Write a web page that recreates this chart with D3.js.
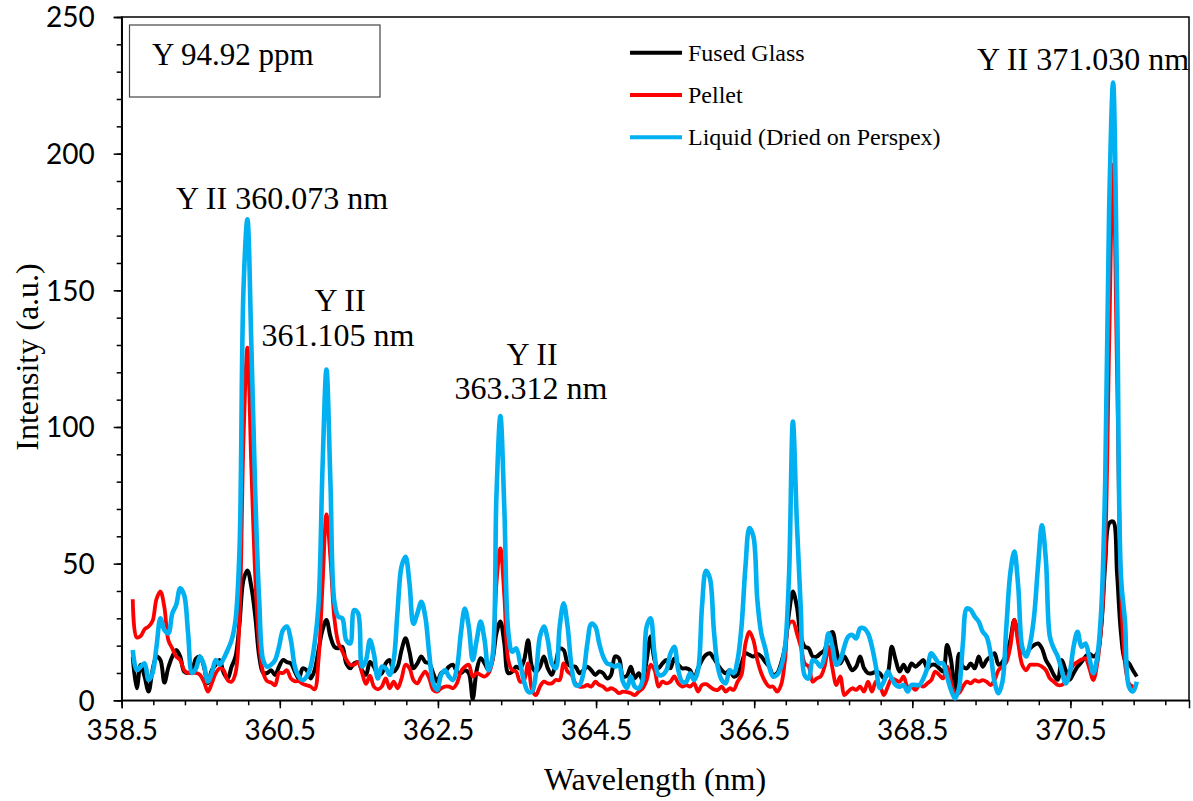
<!DOCTYPE html>
<html>
<head>
<meta charset="utf-8">
<script src="https://cdn.jsdelivr.net/npm/d3@7"></script>
<style>
  body { margin: 0; background: #fff; }
  .tick text { font-family: Lato, "Open Sans", sans-serif; font-size: 28px; fill: #000; }
  .serif { font-family: "Liberation Serif", "Times New Roman", serif; fill: #000; }
</style>
</head>
<body>
<script>
// spectra sampled every 0.05 nm starting at 358.64 nm
var startWl = 358.64, stepWl = 0.05;

var fusedGlass = [
  16, 4.4, 13, 8.6, 3.2, 11, 16, 14.7, 6.5, 12,
  16, 18.4, 16, 10.5, 10, 11, 15.3, 16, 12.3, 6.2,
  11, 13, 14.7, 10, 8, 12.3, 16, 28, 44, 47.5,
  41.5, 30.6, 16, 10, 10, 11, 9.3, 12.3, 14.7, 14,
  13.5, 10.5, 8, 11.7, 11, 8, 11, 18.4, 25.7, 29.4,
  23.3, 19.6, 19, 19.6, 13.5, 11.7, 13.5, 14, 11, 9.3,
  14, 12.3, 9.3, 9.9, 13.5, 14.7, 10.5, 12.3, 18.4, 22.7,
  17.8, 11.7, 13.5, 16, 14, 13.5, 9.9, 6.8, 9.9, 10.5,
  12.3, 13, 10.5, 9.9, 11, 9.9, 0.5, 11, 15.4, 13.5,
  11, 14.7, 24.5, 28.8, 20.8, 9.9, 10.5, 12.3, 11.7, 14.7,
  22, 12.3, 10.5, 12.3, 16, 11.7, 9.3, 13.5, 19, 18.4,
  13.5, 12.3, 12.3, 9.9, 11, 12.3, 11, 9.3, 10.5, 9.9,
  8, 9.3, 16, 15.4, 8.7, 9, 12.3, 8, 9.9, 7.4,
  14.7, 23.3, 14.7, 11.7, 13.5, 14.7, 11.7, 15.3, 13, 11.7,
  11.7, 11, 8, 11.7, 14.7, 16.6, 17.2, 15.3, 13, 11,
  9.9, 11, 8.7, 9.3, 13.5, 17.2, 16.6, 16, 16.9, 16,
  14, 12.3, 9.3, 9.9, 13.5, 19.6, 31.8, 39.8, 34.3, 23.3,
  19.6, 19, 16, 16, 17.2, 18.4, 23.3, 25, 18.4, 13.5,
  16, 13.5, 11, 12.3, 16, 11.7, 9.9, 9.9, 10.5, 9.9,
  8, 9.9, 19.6, 14.7, 10.5, 13, 10.5, 13.5, 12.3, 13.5,
  14.7, 11.7, 13, 13, 11.7, 10.5, 20.2, 14.7, 3, 17,
  12.3, 11.7, 13.5, 11.7, 16, 12.3, 14.7, 16, 17.2, 13,
  14, 17.2, 22, 29.4, 22.7, 17.8, 17.2, 19, 20.2, 20.8,
  19, 14.7, 12.3, 9.3, 7.5, 14.7, 11, 7.5, 9.9, 12.3,
  14, 16, 17, 16, 17.2, 27, 50, 64.8, 65.4, 46.5,
  24.5, 14.7, 13.5, 11, 8.7
];

var pellet = [
  37, 23, 23.5, 26, 27, 29, 37, 39.8, 34, 22,
  19, 16, 14.7, 11, 10, 10, 10, 9.3, 6.8, 3.2,
  6.2, 10, 11.7, 11, 7.4, 6.8, 10, 30, 95, 129,
  85, 45, 20, 10, 7, 6.5, 5.5, 10, 10, 11,
  8, 7, 7, 6, 5.5, 5, 4, 15, 42, 68,
  52, 30, 21, 18, 15, 13, 13, 14, 10, 6,
  9, 5, 4, 5, 8, 4.4, 6.8, 4.4, 8, 13,
  11.7, 7.4, 6.2, 8.7, 10.5, 8, 3.8, 3.2, 4.4, 5,
  5, 4.4, 6.2, 10.5, 12.3, 13, 8.7, 9.9, 9.3, 8.7,
  9.9, 14.7, 42.8, 55.6, 38, 14.7, 11, 10.5, 6.8, 7.4,
  13.5, 3.8, 1.9, 5, 6.8, 6.2, 6.2, 7.4, 7.4, 13.5,
  10.5, 9.3, 6.2, 5, 5, 5.6, 5, 6.8, 5.6, 5,
  3.8, 4.4, 3.8, 2.6, 3.2, 3, 2.6, 1.9, 3.2, 4.4,
  7.4, 13, 11, 5, 6.8, 6.2, 6.8, 8.7, 6.2, 5,
  5.6, 5, 6.2, 3.2, 5.6, 5.9, 5, 4, 3.8, 5,
  3.2, 4.4, 3.8, 6.8, 9.3, 20.8, 25, 22, 14.7, 9.9,
  6.8, 5, 5, 3.2, 5.6, 14.7, 28, 28.8, 24.5, 19.6,
  13.5, 12.3, 6.8, 8, 8.7, 12.3, 19.6, 11.7, 5.6, 8.7,
  1.9, 3.2, 4.4, 3.8, 5, 3.2, 6.8, 3.2, 6.8, 5.5,
  1.9, 5, 8, 7.4, 6.8, 8.7, 5, 5, 3.8, 5.6,
  5, 6.2, 7.4, 10.5, 9.3, 8, 12.3, 6.8, 2.6, 2.6,
  5, 6.8, 6.2, 7.4, 6.8, 7.4, 6.8, 5.6, 7.4, 11,
  12.3, 14, 19.6, 29.4, 20.8, 13, 11, 13, 13, 13,
  12.3, 11, 8, 6.8, 5.6, 5.6, 6.8, 10.5, 13, 14,
  14.9, 15.4, 11.7, 7.4, 13.5, 27, 55, 130, 196, 120,
  40, 13.5, 6.2, 5, 4.4
];

var liquid = [
  18.4, 11, 12.3, 13.5, 7.4, 10, 19.6, 30, 25.7, 24.5,
  31.8, 35, 41, 38.5, 24.5, 10, 11.7, 16, 13, 6.8,
  10, 14.7, 13, 15.3, 18.4, 22, 29.4, 55, 150, 176,
  130, 75, 36, 14.7, 12.3, 13, 14.7, 19.6, 25.7, 27,
  22, 12.3, 8.7, 7.4, 8.7, 12.3, 20.8, 35, 85, 121,
  80, 36, 30.6, 30, 22, 20.8, 33, 31.8, 12.3, 14.7,
  22, 17, 8, 12.3, 11.7, 9.3, 14.7, 33, 49, 52.5,
  42.8, 28, 31.8, 36, 30.6, 17, 6.2, 3.8, 9.3, 11,
  8.7, 7.4, 11.7, 24.5, 33.6, 27, 14.7, 22, 28.8, 22,
  11, 16, 75, 104, 70, 25, 17.8, 19, 13.5, 6.8,
  3.2, 3.2, 9.9, 23.3, 27, 22, 13.5, 11.7, 27, 35.5,
  27, 12.3, 5.6, 5.6, 9.9, 20.8, 28, 27, 20.8, 16,
  13.5, 13, 12.3, 13, 6.8, 4.5, 8.7, 5, 4.4, 7.4,
  27, 30, 17, 9.3, 9.3, 11, 17, 19.6, 11, 6.8,
  6.8, 9.9, 7.4, 11, 34.3, 47.4, 44.6, 25.7, 12.3, 7.4,
  6.2, 11, 9.9, 14.7, 27, 49, 63, 60, 36.7, 24.5,
  19, 12.3, 8.7, 9.3, 12.3, 19.6, 45, 102, 65, 33,
  9, 8, 14.7, 14, 12.3, 16, 24.5, 19.6, 13, 14.7,
  19.6, 23.3, 23.9, 22.6, 26.3, 26.3, 24.5, 19.6, 12.3, 4.5,
  6.8, 10.5, 8, 5.6, 5, 5.6, 3.2, 5.6, 5.6, 5.6,
  8, 11.7, 17.2, 15.4, 13.5, 13.5, 8.7, 3.8, 0.7, 4.4,
  20.8, 33.6, 33, 30.6, 28.8, 25.1, 23.3, 17.2, 6.8, 2.6,
  6.8, 27, 46.5, 54.4, 41.6, 19.6, 16, 20.8, 30.6, 49,
  64, 51.3, 23.3, 19, 16, 11, 6.2, 9.9, 19.6, 25.1,
  19.6, 20.8, 15.4, 9.9, 16, 33, 80, 180, 226, 150,
  45, 29, 5, 3.2, 6.8
];

var seriesNames = ["Fused Glass", "Pellet", "Liquid (Dried on Perspex)"];
var seriesColors = ["#000000", "#ff0000", "#00b0f0"];
var xMajorTicks = [358.5, 360.5, 362.5, 364.5, 366.5, 368.5, 370.5];
var yMajorTicks = [0, 50, 100, 150, 200, 250];
var concLabel = "Y 94.92 ppm";
var peakLabels = [
  ["Y II 360.073 nm"],
  ["Y II", "361.105 nm"],
  ["Y II", "363.312 nm"],
  ["Y II 371.030 nm"]
];

window.onload = function(){

    var w = 1193, h = 801;
    var left = 121.7, right = 1189, top = 17, bottom = 700.3;

    var svg = d3.select("body")
        .append("svg")
        .attr("width", w)
        .attr("height", h);

    var x = d3.scaleLinear().domain([358.5, 372]).range([left, right]);
    var y = d3.scaleLinear().domain([0, 250]).range([bottom, top]);

    var wl = fusedGlass.map(function(d, i){ return startWl + stepWl * i; });

    // plot frame
    svg.append("rect")
        .attr("x", left).attr("y", top)
        .attr("width", right - left).attr("height", bottom - top)
        .attr("fill", "none").attr("stroke", "#000").attr("stroke-width", 1.5);

    // minor ticks
    var xMinor = d3.range(0, 34).map(function(k){ return 358.5 + 0.4 * k; })
        .filter(function(v){ return v <= 372; });
    var yMinor = d3.range(0, 251, 10);

    svg.append("g")
        .attr("transform", "translate(0," + bottom + ")")
        .call(d3.axisBottom(x).tickValues(xMinor).tickSize(5).tickFormat(""))
        .call(function(g){ g.select(".domain").remove(); })
        .selectAll("line").attr("stroke-width", 1.5);

    svg.append("g")
        .attr("transform", "translate(" + left + ",0)")
        .call(d3.axisLeft(y).tickValues(yMinor).tickSize(5).tickFormat(""))
        .call(function(g){ g.select(".domain").remove(); })
        .selectAll("line").attr("stroke-width", 1.5);

    // major ticks + labels
    var xAxis = svg.append("g")
        .attr("transform", "translate(0," + bottom + ")")
        .call(d3.axisBottom(x).tickValues(xMajorTicks).tickSize(8).tickFormat(d3.format(".1f")));
    xAxis.select(".domain").attr("stroke-width", 1.5);
    xAxis.selectAll("line").attr("stroke-width", 1.5);
    xAxis.selectAll("text").attr("y", 40).attr("dy", null);

    var yAxis = svg.append("g")
        .attr("transform", "translate(" + left + ",0)")
        .call(d3.axisLeft(y).tickValues(yMajorTicks).tickSize(8));
    yAxis.select(".domain").attr("stroke-width", 1.5);
    yAxis.selectAll("line").attr("stroke-width", 1.5);
    yAxis.selectAll("text").attr("x", -27).attr("dy", "0.35em");

    // axis titles
    svg.append("text")
        .attr("class", "serif")
        .attr("x", 655).attr("y", 790)
        .attr("text-anchor", "middle")
        .style("font-size", "32px")
        .text("Wavelength (nm)");

    svg.append("text")
        .attr("class", "serif")
        .attr("transform", "translate(38,357) rotate(-90)")
        .attr("text-anchor", "middle")
        .style("font-size", "32px")
        .text("Intensity (a.u.)");

    // spectra
    var allSeries = [fusedGlass, pellet, liquid];
    var widths = [4, 3.8, 4.6];
    var line = d3.line()
        .x(function(d, i){ return x(wl[i]); })
        .y(function(d){ return y(d); })
        .curve(d3.curveCatmullRom.alpha(0.5));

    svg.selectAll(".spectrum")
        .data(allSeries)
        .enter()
        .append("path")
        .attr("class", "spectrum")
        .attr("d", line)
        .attr("fill", "none")
        .attr("stroke", function(d, i){ return seriesColors[i]; })
        .attr("stroke-width", function(d, i){ return widths[i]; })
        .attr("stroke-linejoin", "round");

    // concentration box
    svg.append("rect")
        .attr("x", 129.5).attr("y", 25)
        .attr("width", 250.5).attr("height", 72)
        .attr("fill", "#fff").attr("stroke", "#444").attr("stroke-width", 1.2);
    svg.append("text")
        .attr("class", "serif")
        .attr("x", 152).attr("y", 65)
        .style("font-size", "31px")
        .text(concLabel);

    // legend
    var legend = svg.selectAll(".legend")
        .data(seriesNames)
        .enter()
        .append("g")
        .attr("class", "legend")
        .attr("transform", function(d, i){ return "translate(630," + (52.7 + i * 42.3) + ")"; });
    legend.append("line")
        .attr("x1", 0).attr("x2", 52)
        .attr("stroke", function(d, i){ return seriesColors[i]; })
        .attr("stroke-width", 4);
    legend.append("text")
        .attr("class", "serif")
        .attr("x", 58).attr("y", 8)
        .style("font-size", "24px")
        .text(function(d){ return d; });

    // peak annotations
    var peakPos = [
        [[282, 209]],
        [[340, 311], [338, 346]],
        [[532, 365], [531, 399]],
        [[1083, 70]]
    ];
    peakLabels.forEach(function(lines, k){
        lines.forEach(function(t, j){
            svg.append("text")
                .attr("class", "serif")
                .attr("x", peakPos[k][j][0]).attr("y", peakPos[k][j][1])
                .attr("text-anchor", "middle")
                .style("font-size", "32px")
                .text(t);
        });
    });
};
</script>
</body>
</html>
